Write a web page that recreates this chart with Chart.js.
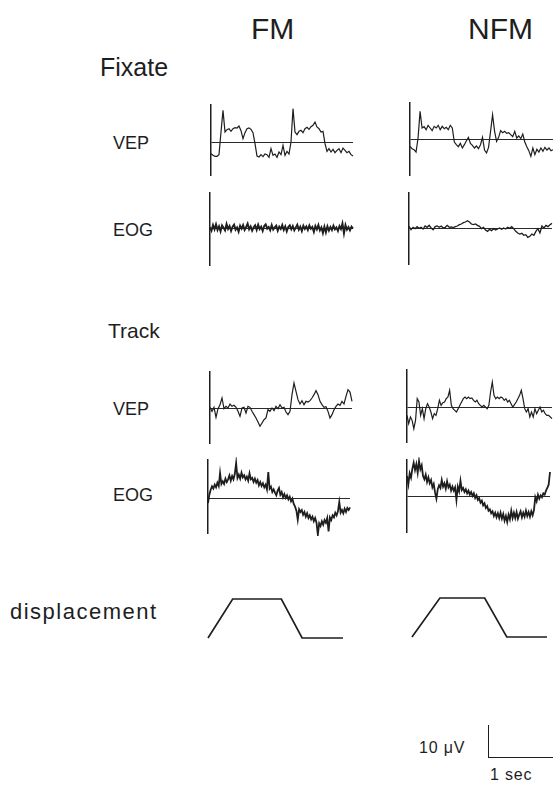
<!DOCTYPE html>
<html>
<head>
<meta charset="utf-8">
<script src="https://cdn.jsdelivr.net/npm/chart.js@4.4.1/dist/chart.umd.min.js"></script>
<style>
body{margin:0;background:#fff;width:553px;height:785px;position:relative;overflow:hidden;font-family:"Liberation Sans",Arial,sans-serif;color:#1e1e1e}
.lbl{position:absolute;white-space:nowrap;line-height:1}
canvas{position:absolute}
#bar{position:absolute;left:488px;top:725px;width:70px;height:32px;border-left:1.3px solid #1e1e1e;border-bottom:1.3px solid #1e1e1e}
</style>
</head>
<body>
<div class="lbl" style="left:251px;top:14px;font-size:30px">FM</div>
<div class="lbl" style="left:468px;top:14px;font-size:30px">NFM</div>
<div class="lbl" style="left:100px;top:55px;font-size:25px">Fixate</div>
<div class="lbl" style="left:113px;top:134px;font-size:18px">VEP</div>
<div class="lbl" style="left:113px;top:221px;font-size:18px">EOG</div>
<div class="lbl" style="left:108px;top:320px;font-size:21px">Track</div>
<div class="lbl" style="left:113px;top:400px;font-size:18px">VEP</div>
<div class="lbl" style="left:113px;top:486px;font-size:18px">EOG</div>
<div class="lbl" style="left:10px;top:601px;font-size:22px;letter-spacing:1.5px">displacement</div>
<div class="lbl" style="left:419px;top:740px;font-size:16px;letter-spacing:0.8px">10 μV</div>
<div class="lbl" style="left:490px;top:767px;font-size:16px;letter-spacing:0.8px">1 sec</div>
<div id="bar"></div>

<script>
// traces in µV, one value per sample (about 2 px apart in the figure)
const FM_FIX_VEP = [-3.5,-4,-4.3,-4.3,-3.8,3,9.5,3,3.7,4,3.2,4,4.3,4.2,4.8,3.4,1,2.8,4,4.2,3.8,2.8,-0.5,-4.2,-4.5,-3.8,-4.4,-3.6,-3.8,-4.6,-2,-4,-3.6,-4.6,-3,-3.8,-1,-4,-2.8,-3.6,0,10,3,2.2,3.2,3.5,2.8,4,4.4,3.8,4.6,5,6,4.5,4,3,3.2,-0.5,-2.8,-2,-3,-2.2,-3.2,-2.5,-2,-3.2,-1.8,-2.5,-3.2,-2.8,-3.8,-4.2];
const NFM_FIX_VEP = [-2.2,-2.9,-3.2,-3.9,0.3,8.3,3.3,3.7,2.8,4.1,3.3,2.5,3.8,3.3,4.1,2.8,3.8,3.1,3.5,2.8,4.1,3.3,-0.9,-1.7,-2.3,-1.3,-2.7,-1.7,-0.5,0.5,-1.3,-1.9,-2.7,-2.1,-2.9,-1.7,0.5,-3.3,-4.2,-2.5,2.3,7.3,2.3,-0.7,0.5,2.5,1.9,2.3,1.7,1.9,1.3,0.7,2.3,0.3,0.9,0.1,1.5,-0.9,-2.3,-3.5,-5.2,-2.7,-4.7,-3.1,-3.9,-2.7,-3.7,-2.5,-3.3,-2.7,-3.5,-3.2];
const FM_FIX_EOG = [0.2,-0.8,0.9,-0.4,1.1,-0.6,0.5,-1.0,0.8,0.1,-0.7,1.2,-0.3,0.6,-0.9,0.4,1.0,-0.5,0.2,-1.1,0.7,-0.2,0.9,-0.6,0.3,1.3,-0.4,0.5,-0.8,0.2,0.8,-0.6,1.0,-0.3,0.4,-0.9,0.6,1.1,-0.2,0.3,-0.7,0.9,-0.5,0.2,0.7,-0.8,0.4,-0.3,0.9,-0.6,0.5,-1.0,0.3,0.8,-0.4,0.6,-0.7,0.2,1.0,-0.5,0.4,-0.9,0.7,-0.3,0.5,-0.6,0.8,-0.2,0.3,-1.2,0.6,-0.4,0.9,-0.7,0.2,-1.5,0.4,-1.3,0.5,-0.8,0.3,-0.6,0.7,-0.4,0.2,-0.9,0.6,-0.3,1.4,-1.6,0.9,-0.5,0.3,-0.7,0.4,-0.2];
const NFM_FIX_EOG = [0.5,-0.5,0.2,-0.2,0.4,-0.1,0.2,-0.3,0.6,0.2,0.8,0,-0.5,0.4,0.6,0.2,0.6,0,0.2,0.8,0.2,0.3,0.1,0.4,0.6,1.0,1.2,1.6,1.8,2.2,1.8,1.2,1.0,1.2,0.8,0.5,-0.2,0.2,-0.6,-1.0,-0.4,-0.8,-0.2,-0.6,-0.3,0,-0.4,0,-0.3,0.2,-0.1,0.4,-0.2,-1.0,-1.5,-1.8,-1.6,-2.2,-2.0,-2.8,-2.5,-1.8,-2.2,-1.0,-0.2,-1.5,0.6,0,0.8,0.4,1.0,1.4];
const FM_TRK_VEP = [0.2,-1.0,0.2,-2.8,-0.2,1.0,3.0,-0.2,0.5,0,1.2,0.5,0.8,0.2,-1.0,-2.5,0,0.2,-1.5,0.5,0.2,-1.0,-2.0,-3.0,-4.2,-5.5,-4.5,-3.5,-3.0,-0.5,-1.0,0,-0.8,0.5,-0.2,1.0,0,0.2,-1.2,-2.0,-1.0,4.0,7.5,5.0,2.5,1.2,2.2,1.0,2.0,1.8,2.2,3.0,4.0,5.2,4.0,2.0,1.0,0.2,0.4,-1.0,-3.0,-2.0,-0.5,0.5,1.2,0.8,2.0,1.2,3.5,5.5,4.8,2.0];
const NFM_TRK_VEP = [-2.5,-5.0,-3.0,-4.0,-6.5,-4.0,2.5,1.5,-2.5,-0.5,-3.5,-0.5,1.0,0,-1.5,-3.5,-2.0,-2.5,-0.5,2.0,0.5,1.3,1.5,2.5,3.0,5.0,0.5,-0.5,-1.0,-1.5,-0.5,0.5,1.5,2.5,3.0,2.5,3.0,2.5,2.7,2.0,1.5,2.0,1.0,0.5,0,0.5,0,-0.5,0.5,4.5,7.5,3.5,2.5,3.0,2.5,3.0,2.7,2.0,2.5,1.5,2.0,1.0,0,0.7,1.5,2.5,3.5,5.0,2.5,-0.5,-1.5,-0.5,-3.0,-1.5,-3.0,-0.5,-2.0,-1.0,0,-1.5,-1.0,-2.0,-2.5,-2.5,-3.0,-3.5];
const FM_TRK_EOG = [-1.5,1.0,2.5,3.5,2.8,4.0,3.2,4.6,3.6,7.5,4.2,5.0,4.2,5.8,4.8,5.6,6.8,5.2,6.6,5.6,7.2,10.5,6.0,7.0,5.8,7.6,6.2,6.8,5.6,6.4,5.2,7.4,5.6,6.0,4.8,5.8,4.6,5.4,3.8,4.8,3.6,4.4,3.2,4.0,2.6,7.8,2.8,3.4,1.8,2.6,1.6,0.8,2.2,3.0,1.0,1.8,0.2,1.2,0.0,0.8,-0.4,0.4,-1.0,-0.2,-1.8,-2.6,-3.8,-6.5,-3.4,-4.2,-3.6,-5.0,-4.2,-5.6,-4.6,-6.0,-5.2,-6.4,-5.6,-7.0,-6.0,-7.4,-11.0,-7.6,-8.4,-7.0,-8.0,-6.6,-7.4,-6.0,-10.0,-5.8,-6.6,-5.2,-5.8,-4.4,-5.2,-4.0,-1.2,-4.4,-3.6,-4.6,-3.2,-4.2,-3.0,-3.6,-2.8];
const NFM_TRK_EOG = [6.0,3.5,6.8,5.5,8.2,10.0,7.8,9.6,7.0,10.5,8.0,9.2,6.0,5.0,6.4,4.2,5.6,3.8,4.8,2.6,3.6,1.0,-0.8,2.0,3.2,2.4,4.8,2.8,3.8,2.2,4.4,2.6,3.4,1.6,2.8,1.6,2.6,-1.2,2.8,1.4,4.6,1.8,2.4,1.2,2.0,0.8,1.6,0.4,1.2,0.0,0.8,-0.6,0.2,-1.2,-0.6,-2.0,-1.4,-2.8,-2.2,-3.6,-3.0,-4.4,-4.0,-5.2,-4.6,-6.0,-5.0,-6.4,-5.2,-6.6,-5.0,-6.8,-5.4,-7.4,-6.0,-7.8,-5.6,-7.0,-4.4,-6.6,-5.0,-6.6,-4.8,-6.8,-5.6,-4.6,-6.4,-5.0,-6.2,-4.4,-6.0,-4.8,-6.2,-4.6,-5.8,-4.2,-0.4,-1.6,0.4,-0.8,0.2,-0.4,0.8,0.4,1.6,2.4,3.4,7.2];

// stimulus displacement: time (s) and position (relative)
const FM_DISP_T = [0, 0.38, 1.13, 1.45, 2.08];
const FM_DISP = [0, 1, 1, 0, 0];
const NFM_DISP_T = [0, 0.43, 1.12, 1.46, 2.08];
const NFM_DISP = [0, 1, 1, 0, 0];

const PX_PER_UV = 10 / 3;
const PAD = 3;
const INK = '#1e1e1e';

// panel placement: axis x, axis top/bottom, baseline y, trace end x
const panels = [
  {vals: FM_FIX_VEP,  x: 211, top: 105, bottom: 175, base: 142, right: 353, lw: 1.2},
  {vals: NFM_FIX_VEP, x: 410, top: 103, bottom: 175, base: 139, right: 553, lw: 1.2},
  {vals: FM_FIX_EOG,  x: 210, top: 193, bottom: 265, base: 228, right: 353, lw: 1.9},
  {vals: NFM_FIX_EOG, x: 409, top: 193, bottom: 264, base: 228, right: 552, lw: 1.3},
  {vals: FM_TRK_VEP,  x: 210, top: 372, bottom: 443, base: 408, right: 352, lw: 1.2},
  {vals: NFM_TRK_VEP, x: 407, top: 370, bottom: 442, base: 407, right: 552, lw: 1.2},
  {vals: FM_TRK_EOG,  x: 208, top: 460, bottom: 533, base: 498, right: 350, lw: 1.8},
  {vals: NFM_TRK_EOG, x: 407, top: 460, bottom: 532, base: 496, right: 550, lw: 1.8}
];
const disps = [
  {t: FM_DISP_T,  vals: FM_DISP,  x: 208, right: 343, top: 599, bottom: 638},
  {t: NFM_DISP_T, vals: NFM_DISP, x: 412, right: 547, top: 598, bottom: 637}
];

function addCanvas(left, top, w, h) {
  const c = document.createElement('canvas');
  c.width = w; c.height = h;
  c.style.left = left + 'px'; c.style.top = top + 'px';
  c.style.width = w + 'px'; c.style.height = h + 'px';
  document.body.appendChild(c);
  return c;
}

panels.forEach(p => {
  const c = addCanvas(p.x - PAD, p.top - PAD, p.right - p.x + 2 * PAD, p.bottom - p.top + 2 * PAD);
  new Chart(c, {
    type: 'line',
    data: {
      labels: p.vals.map((v, i) => i),
      datasets: [{
        data: p.vals,
        borderColor: INK,
        borderWidth: p.lw,
        pointRadius: 0,
        tension: 0,
        fill: false,
        clip: false
      }]
    },
    options: {
      responsive: false,
      animation: false,
      devicePixelRatio: 1,
      events: [],
      layout: {padding: PAD},
      plugins: {legend: {display: false}, tooltip: {enabled: false}},
      scales: {
        x: {display: false},
        y: {
          min: -(p.bottom - p.base) / PX_PER_UV,
          max: (p.base - p.top) / PX_PER_UV,
          afterBuildTicks: s => { s.ticks = [{value: 0}]; },
          ticks: {display: false},
          grid: {drawTicks: false, color: '#2a2a2a', lineWidth: 1},
          border: {display: true, color: INK, width: 1.5}
        }
      }
    }
  });
});

disps.forEach(d => {
  const c = addCanvas(d.x - PAD, d.top - PAD, d.right - d.x + 2 * PAD, d.bottom - d.top + 2 * PAD);
  new Chart(c, {
    type: 'line',
    data: {
      datasets: [{
        data: d.t.map((t, i) => ({x: t, y: d.vals[i]})),
        borderColor: INK,
        borderWidth: 1.7,
        pointRadius: 0,
        tension: 0,
        clip: false
      }]
    },
    options: {
      responsive: false,
      animation: false,
      devicePixelRatio: 1,
      events: [],
      layout: {padding: PAD},
      plugins: {legend: {display: false}, tooltip: {enabled: false}},
      scales: {
        x: {type: 'linear', display: false, min: 0, max: d.t[d.t.length - 1]},
        y: {display: false, min: 0, max: 1}
      }
    }
  });
});
</script>
</body>
</html>
